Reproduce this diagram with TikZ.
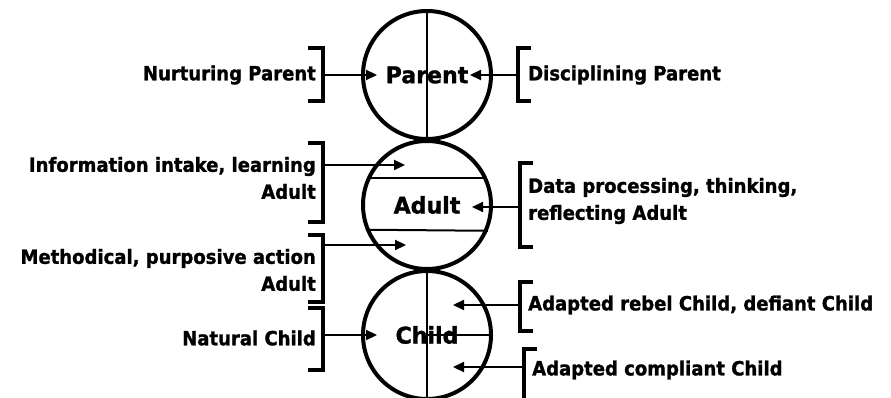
\documentclass[tikz,border=0pt]{standalone}
\usepackage{fontspec}
\setmainfont{DejaVu Sans}
\newfontfamily\labfont{DejaVu Sans}[FakeStretch=0.92, BoldFeatures={FakeBold=1.3}]
\newfontfamily\egofont{DejaVu Sans}[FakeStretch=0.96, BoldFeatures={FakeBold=1.3}]
\usetikzlibrary{arrows.meta}
\begin{document}
\begin{tikzpicture}[x=1pt,y=-1pt,
  lab/.style={font=\labfont\fontsize{19.6}{27}\selectfont\bfseries, inner sep=0pt},
  labL/.style={lab, anchor=east, align=right},
  labR/.style={lab, anchor=west, align=left},
  ego/.style={circle, draw, line width=4pt, minimum size=128pt, inner sep=0pt,
              font=\egofont\fontsize{23}{26}\selectfont\bfseries},
  divider/.style={line width=2pt},
  arr/.style={line width=2.2pt, -{Triangle[length=11pt,width=10pt]}},
  brk/.style={line width=3.6pt, line join=miter}]
\useasboundingbox (0,0) rectangle (891,398);

% ego-state circles
\node[ego] (P) at (427,75) {Parent};
\node[ego] (A) at (427,205) {Adult};
\node[ego] (C) at (427,335) {Child};

% dividers
\draw[divider] (P.north) -- (P.south);
\draw[divider] (A.156) -- (A.24);
\draw[divider] (A.202.4) -- (A.337.6);
\draw[divider] (C.north) -- (C.south);
\draw[divider] (C.center) -- (C.east);

% left labels
\node[labL] (np) at (316,75) {Nurturing Parent};
\node[labL] (ii) at (316,178) {Information intake, learning\\Adult};
\node[labL] (mp) at (316,270) {Methodical, purposive action\\Adult};
\node[labL] (nc) at (316,338) {Natural Child};

% right labels
\node[labR] (dp) at (528,75) {Disciplining Parent};
\node[labR] (dt) at (528,201) {Data processing, thinking,\\reflecting Adult};
\node[labR] (ar) at (528,305) {Adapted rebel Child, defiant Child};
\node[labR] (ac) at (532,370) {Adapted compliant Child};

% left brackets
\draw[brk] (308,48) -- (323,48) -- (323,101) -- (308,101);
\draw[brk] (308,143) -- (323,143) -- (323,222) -- (308,222);
\draw[brk] (308,235) -- (323,235) -- (323,302) -- (308,302);
\draw[brk] (308,308) -- (323,308) -- (323,370) -- (308,370);

% right brackets
\draw[brk] (531,48) -- (518,48) -- (518,101) -- (531,101);
\draw[brk] (533,163) -- (520,163) -- (520,247) -- (533,247);
\draw[brk] (533,282) -- (520,282) -- (520,331) -- (533,331);
\draw[brk] (537,349) -- (524,349) -- (524,402);

% arrow anchors
\coordinate (bnp) at (323,75);
\coordinate (bii) at (323,165);
\coordinate (bmp) at (323,245);
\coordinate (bnc) at (323,335);
\coordinate (bdp) at (518,75);
\coordinate (bdt) at (520,207);
\coordinate (bar) at (520,305);
\coordinate (bac) at (524,367);

\coordinate (tnp) at (377,75);
\coordinate (tii) at (405,165);
\coordinate (tmp) at (406,245);
\coordinate (tnc) at (377,335);
\coordinate (tdp) at (470,75);
\coordinate (tdt) at (472,207);
\coordinate (tar) at (453,305);
\coordinate (tac) at (453,367);

% arrows
\draw[arr] (bnp) -- (tnp);
\draw[arr] (bii) -- (tii);
\draw[arr] (bmp) -- (tmp);
\draw[arr] (bnc) -- (tnc);
\draw[arr] (bdp) -- (tdp);
\draw[arr] (bdt) -- (tdt);
\draw[arr] (bar) -- (tar);
\draw[arr] (bac) -- (tac);
\end{tikzpicture}
\end{document}
